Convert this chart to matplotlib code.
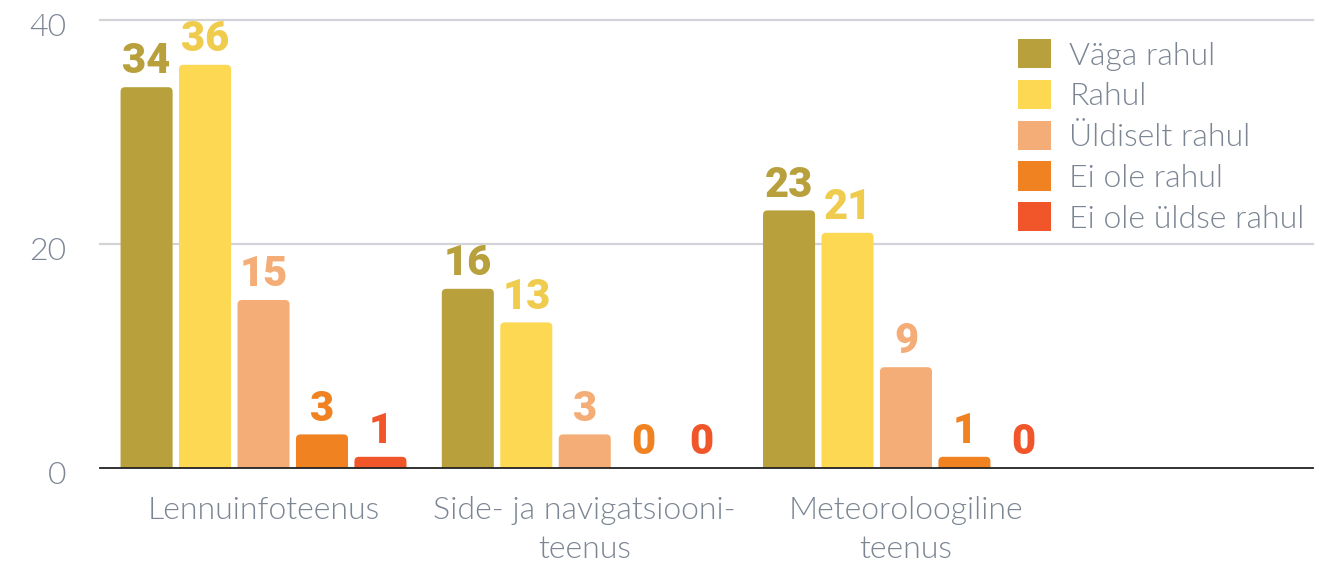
import matplotlib
matplotlib.use("Agg")
import matplotlib.pyplot as plt
from matplotlib.patches import FancyBboxPatch, Patch
from matplotlib.transforms import ScaledTranslation
import numpy as np

categories = ["Lennuinfoteenus", "Side- ja navigatsiooni-\nteenus", "Meteoroloogiline\nteenus"]
series_names = ["Väga rahul", "Rahul", "Üldiselt rahul", "Ei ole rahul", "Ei ole üldse rahul"]
vaga_rahul = [34, 16, 23]
rahul = [36, 13, 21]
uldiselt_rahul = [15, 3, 9]
ei_ole_rahul = [3, 0, 1]
ei_ole_uldse_rahul = [1, 0, 0]
series_values = [vaga_rahul, rahul, uldiselt_rahul, ei_ole_rahul, ei_ole_uldse_rahul]
colors = ["#B8A03C", "#FDD853", "#F4AD76", "#F08222", "#F0562A"]
label_colors = ["#B8A03C", "#F0CC4E", "#F4AD76", "#F08222", "#F0562A"]
yticks = [0, 20, 40]

TEXT = "#7B8593"
W, H = 1325, 565
fig = plt.figure(figsize=(W / 100, H / 100), dpi=100)
ax = fig.add_axes([100 / W, 1 - 468 / H, (1313 - 100) / W, (468 - 20) / H])

x = np.arange(len(categories))
step = 0.182
width = 0.162
xlim = (-0.509, 3.267)
ylim = (0, 40)
ax.set_xlim(*xlim)
ax.set_ylim(*ylim)

px_per_x = (1313 - 100) / (xlim[1] - xlim[0])
px_per_y = (468 - 20) / (ylim[1] - ylim[0])
r_px = 4.5
rx = r_px / px_per_x
ry = r_px / px_per_y
aspect = px_per_x / px_per_y

for i, (name, vals, c, lc) in enumerate(zip(series_names, series_values, colors, label_colors)):
    pos = x + (i - 2) * step
    bars = ax.bar(pos, vals, width=width, color=c, label=name)
    for b in bars:
        h = b.get_height()
        b.set_visible(False)
        if h > 0:
            p = FancyBboxPatch((b.get_x() + rx, 0), b.get_width() - 2 * rx, h - ry,
                               boxstyle=f"round,pad={rx},rounding_size={rx}",
                               mutation_aspect=aspect, facecolor=c, edgecolor="none",
                               clip_on=True, zorder=2)
            ax.add_patch(p)
        ax.annotate(f"{int(h)}", (b.get_x() + b.get_width() / 2, h), xytext=(0, 10),
                    textcoords="offset points", ha="center", va="baseline",
                    fontsize=30, fontweight="black", family="Roboto", color=lc, zorder=3)

for s in ["top", "right", "left"]:
    ax.spines[s].set_visible(False)
ax.spines["bottom"].set_color("#222222")
ax.spines["bottom"].set_linewidth(1.3)
ax.spines["bottom"].set_zorder(4)

for yv in yticks[1:]:
    ax.axhline(yv, color="#D4D4D8", linewidth=1.6, zorder=0, clip_on=False)

ax.set_yticks(yticks)
ax.set_yticklabels([str(v) for v in yticks], fontsize=23, family="Lato", fontweight=300, color=TEXT)
ax.tick_params(axis="y", length=0, pad=24)
off = ScaledTranslation(0, -4 / 100, fig.dpi_scale_trans)
for lab in ax.get_yticklabels():
    lab.set_transform(lab.get_transform() + off)

ax.set_xticks(x)
ax.set_xticklabels(categories, fontsize=23, family="Lato", fontweight=300, color=TEXT, linespacing=1.45)
ax.tick_params(axis="x", length=0, pad=20)

handles = [Patch(facecolor=c, edgecolor="none") for c in colors]
leg = fig.legend(handles, series_names, loc="upper left", bbox_to_anchor=(1018 / W, 1 - 39 / H),
                 frameon=False, prop={"family": "Lato", "weight": 300, "size": 23},
                 handlelength=1.03, handleheight=1.03, handletextpad=0.58, labelspacing=0.29,
                 borderpad=0, borderaxespad=0)
for t in leg.get_texts():
    t.set_color(TEXT)

fig.savefig("out.png", dpi=100, facecolor="white")
